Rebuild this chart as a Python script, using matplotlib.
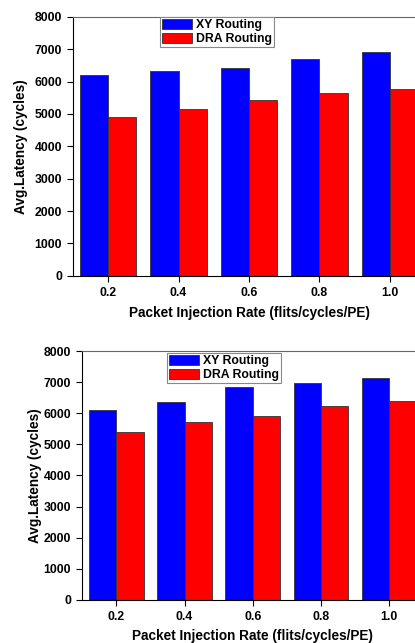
import numpy as np
import matplotlib
matplotlib.use("Agg")
import matplotlib.pyplot as plt

plt.rcParams["font.family"] = ["Liberation Sans", "DejaVu Sans"]
plt.rcParams["font.weight"] = "bold"

rates = [0.2, 0.4, 0.6, 0.8, 1.0]
tick_labels = ["0.2", "0.4", "0.6", "0.8", "1.0"]
series_names = ["XY Routing", "DRA Routing"]

# top chart
xy_top = [6190, 6310, 6420, 6710, 6920]
dra_top = [4900, 5160, 5420, 5650, 5760]

# bottom chart
xy_bottom = [6100, 6350, 6850, 6970, 7130]
dra_bottom = [5390, 5720, 5910, 6230, 6390]

fig = plt.figure(figsize=(4.15, 6.43), dpi=100)


def draw(ax, xy, dra, leg_anchor, ylabel_x, xlabel_pad):
    x = np.array(rates)
    w = 0.08
    ax.bar(x - w / 2, xy, w, color="#0000ff", edgecolor="#333333", linewidth=0.6, label=series_names[0])
    ax.bar(x + w / 2, dra, w, color="#ff0000", edgecolor="#333333", linewidth=0.6, label=series_names[1])
    ax.set_xlim(0.1, 1.1)
    ax.set_ylim(0, 8000)
    ax.set_xticks(rates)
    ax.set_xticklabels(tick_labels)
    ax.set_yticks(range(0, 8001, 1000))
    ax.tick_params(direction="out", length=4, width=0.8, labelsize=8.8, pad=4)
    for lab in ax.get_xticklabels() + ax.get_yticklabels():
        lab.set_fontweight("bold")
    ax.spines["right"].set_visible(False)
    ax.spines["top"].set_color("#666666")
    ax.set_xlabel("Packet Injection Rate (flits/cycles/PE)", fontsize=9.8, fontweight="bold", labelpad=xlabel_pad)
    ax.set_ylabel("Avg.Latency (cycles)", fontsize=9.8, fontweight="bold")
    ax.yaxis.set_label_coords(ylabel_x, 0.5)
    leg = ax.legend(loc="upper left", bbox_to_anchor=leg_anchor, bbox_transform=fig.transFigure,
                    fontsize=8.8, frameon=True, fancybox=False, framealpha=1,
                    edgecolor="#888888", borderpad=0.15, labelspacing=0.2,
                    handlelength=2.5, handleheight=0.85, handletextpad=0.3, borderaxespad=0)
    leg.get_frame().set_linewidth(0.8)
    for t in leg.get_texts():
        t.set_fontweight("bold")


ax1 = fig.add_axes([0.176, 0.571, 0.848, 0.403])
draw(ax1, xy_top, dra_top, (160 / 415, 1 - 17 / 643), -0.128, 5)

ax2 = fig.add_axes([0.198, 0.067, 0.822, 0.387])
draw(ax2, xy_bottom, dra_bottom, (167 / 415, 1 - 353 / 643), -0.117, 4)

fig.savefig("out.png", dpi=100)
